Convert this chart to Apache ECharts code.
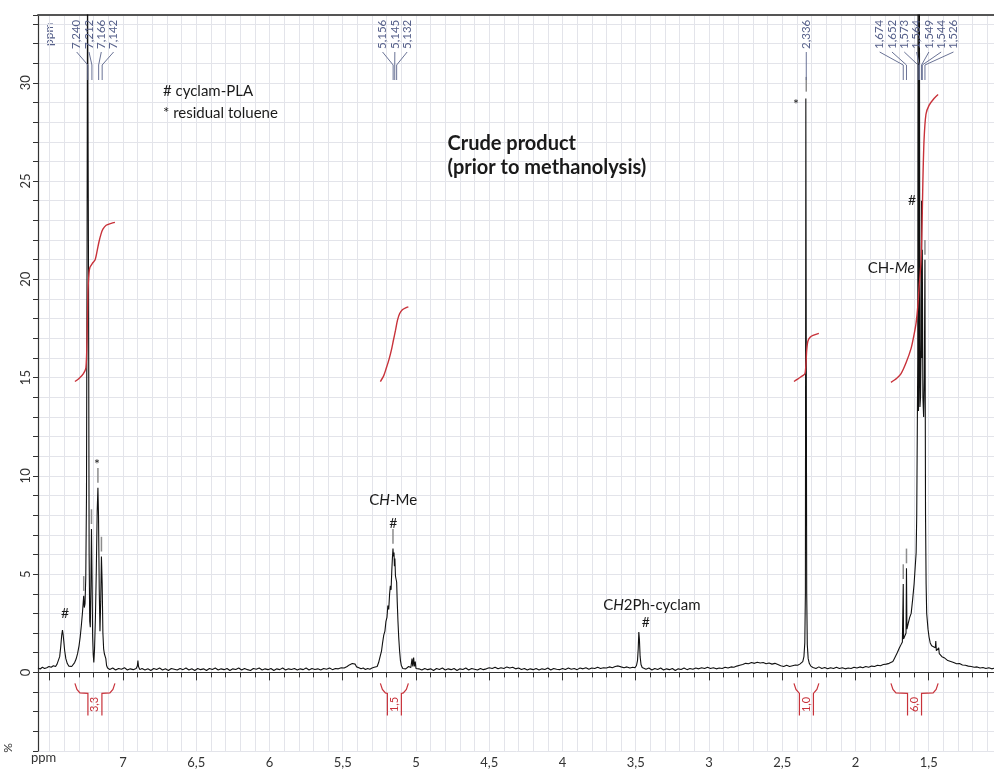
<!DOCTYPE html>
<html>
<head>
<meta charset="utf-8">
<title>1H NMR – crude product</title>
<script src="https://cdn.jsdelivr.net/npm/echarts@6/dist/echarts.min.js"></script>
<style>
  html, body { margin: 0; padding: 0; background: #fff; }
  #chart { width: 994px; height: 770px; }
</style>
</head>
<body>
<div id="chart"></div>
<script>
// ---------- spectrum (chemical shift in ppm, intensity in %) ----------
const spectrumAromatic = [
  [7.58,0.22],[7.565,0.17],[7.55,0.26],[7.535,0.2],[7.52,0.24],[7.505,0.3],[7.49,0.26],[7.475,0.34],
  [7.46,0.3],[7.45,0.42],[7.44,0.5],[7.432,0.8],[7.425,1.3],[7.418,1.9],[7.413,2.15],[7.409,1.95],
  [7.404,1.6],[7.398,1.1],[7.39,0.7],[7.38,0.45],[7.37,0.32],[7.36,0.25],[7.35,0.3],[7.34,0.38],
  [7.33,0.5],[7.32,0.68],[7.31,0.95],[7.30,1.35],[7.292,1.8],[7.284,2.4],[7.277,3.0],[7.272,3.5],
  [7.268,3.9],[7.264,3.3],[7.259,3.5],[7.254,4.8],[7.249,9],[7.245,22],[7.242,36],[7.238,36],
  [7.235,20],[7.231,6],[7.227,2.6],[7.223,2.3],[7.219,4.5],[7.215,7.3],[7.211,4.8],[7.207,1.8],
  [7.203,0.9],[7.199,0.5],[7.194,1.2],[7.188,2.8],[7.182,5.2],[7.176,8.2],[7.171,9.4],[7.167,8.0],
  [7.162,4.2],[7.157,2.1],[7.152,3.6],[7.147,5.9],[7.142,4.5],[7.137,2.0],[7.132,1.2],[7.127,0.95],
  [7.122,1.05],[7.117,0.7],[7.112,0.35],[7.105,0.22]
];
const spectrumOlefinic = [
  [7.09,0.15],[7.07,0.22],[7.05,0.12],[7.03,0.2],[7.01,0.16],[6.99,0.24],[6.97,0.12],[6.95,0.18],
  [6.93,0.14],[6.91,0.2],[6.902,0.32],[6.898,0.6],[6.894,0.3],[6.885,0.14],[6.87,0.2],[6.85,0.12],
  [6.83,0.18],[6.81,0.1],[6.79,0.2],[6.77,0.15],[6.75,0.22],[6.73,0.12],[6.71,0.18],[6.69,0.1],
  [6.67,0.2],[6.65,0.16],[6.63,0.12],[6.61,0.2],[6.59,0.14],[6.57,0.22],[6.55,0.12],[6.53,0.18],
  [6.51,0.1],[6.49,0.2],[6.47,0.14],[6.45,0.18],[6.43,0.1],[6.41,0.2],[6.39,0.15],[6.37,0.22],
  [6.35,0.12],[6.33,0.18],[6.31,0.14],[6.29,0.2],[6.27,0.1],[6.25,0.18],[6.23,0.15],[6.21,0.22],
  [6.19,0.12],[6.17,0.2],[6.15,0.14],[6.13,0.1],[6.11,0.2],[6.09,0.16],[6.07,0.22],[6.05,0.12],
  [6.03,0.18],[6.01,0.14],[5.99,0.2],[5.97,0.1],[5.95,0.18],[5.93,0.14],[5.91,0.22],[5.89,0.12],
  [5.87,0.18],[5.85,0.15],[5.83,0.2],[5.81,0.12],[5.79,0.18],[5.77,0.14],[5.75,0.22],[5.73,0.12],
  [5.71,0.2],[5.69,0.15],[5.67,0.18],[5.65,0.12],[5.63,0.2],[5.61,0.16],[5.59,0.22],[5.57,0.14],
  [5.55,0.2],[5.53,0.18],[5.51,0.24],[5.49,0.22],[5.47,0.3],[5.455,0.38],[5.445,0.3],[5.435,0.45],
  [5.425,0.36],[5.415,0.42],[5.405,0.28],[5.39,0.24],[5.375,0.18],[5.36,0.22],[5.345,0.15],[5.33,0.2],
  [5.315,0.16],[5.30,0.22],[5.285,0.26],[5.272,0.3]
];
const spectrumMethine = [
  [5.265,0.3],[5.255,0.5],[5.245,0.8],[5.235,1.1],[5.228,1.5],[5.22,1.9],[5.212,2.1],[5.205,2.6],
  [5.198,2.8],[5.192,3.4],[5.186,3.2],[5.18,4.0],[5.175,4.4],[5.17,4.2],[5.165,5.2],[5.161,5.8],
  [5.157,6.3],[5.154,5.9],[5.15,6.1],[5.147,5.4],[5.144,5.8],[5.14,4.9],[5.136,5.0],[5.132,4.6],
  [5.128,3.6],[5.123,2.6],[5.118,1.8],[5.112,1.1],[5.106,0.6],[5.1,0.35],[5.09,0.2],[5.08,0.25],
  [5.07,0.18],[5.06,0.22],[5.05,0.3],[5.035,0.25],[5.027,0.7],[5.022,0.3],[5.016,0.75],[5.011,0.3],
  [5.005,0.55],[5.0,0.2]
];
const spectrumMid = [
  [4.98,0.18],[4.96,0.12],[4.94,0.2],[4.92,0.14],[4.90,0.18],[4.88,0.1],[4.86,0.2],[4.84,0.15],
  [4.82,0.22],[4.80,0.12],[4.78,0.18],[4.76,0.14],[4.74,0.2],[4.72,0.1],[4.70,0.18],[4.68,0.15],
  [4.66,0.22],[4.64,0.12],[4.62,0.2],[4.60,0.16],[4.58,0.12],[4.56,0.2],[4.54,0.14],[4.52,0.18],
  [4.50,0.24],[4.48,0.2],[4.46,0.26],[4.44,0.18],[4.42,0.24],[4.40,0.2],[4.38,0.28],[4.36,0.22],
  [4.34,0.26],[4.32,0.18],[4.30,0.22],[4.28,0.15],[4.26,0.2],[4.24,0.12],[4.22,0.18],[4.20,0.14],
  [4.18,0.2],[4.16,0.12],[4.14,0.18],[4.12,0.15],[4.10,0.22],[4.08,0.12],[4.06,0.2],[4.04,0.16],
  [4.02,0.14],[4.00,0.2],[3.98,0.15],[3.96,0.22],[3.94,0.16],[3.92,0.2],[3.90,0.14],[3.88,0.22],
  [3.86,0.18],[3.84,0.24],[3.82,0.16],[3.80,0.22],[3.78,0.2],[3.76,0.26],[3.74,0.2],[3.72,0.24],
  [3.70,0.22],[3.68,0.28],[3.66,0.24],[3.64,0.3],[3.62,0.33],[3.60,0.28],[3.58,0.24],[3.56,0.28],
  [3.54,0.22],[3.52,0.26],[3.505,0.24],
  [3.495,0.35],[3.488,0.6],[3.483,1.2],[3.479,2.05],[3.475,1.7],[3.47,0.8],[3.464,0.4],[3.456,0.25],
  [3.445,0.2]
];
const spectrumAliphatic = [
  [3.43,0.16],[3.41,0.22],[3.39,0.12],[3.37,0.2],[3.35,0.15],[3.33,0.22],[3.31,0.12],[3.29,0.18],
  [3.27,0.14],[3.25,0.2],[3.23,0.1],[3.21,0.18],[3.19,0.15],[3.17,0.22],[3.15,0.14],[3.13,0.2],
  [3.11,0.16],[3.09,0.22],[3.07,0.18],[3.05,0.24],[3.03,0.2],[3.01,0.26],[2.99,0.2],[2.97,0.24],
  [2.95,0.18],[2.93,0.22],[2.91,0.2],[2.89,0.26],[2.87,0.22],[2.85,0.28],[2.83,0.26],[2.81,0.32],
  [2.79,0.36],[2.77,0.4],[2.75,0.46],[2.73,0.44],[2.71,0.5],[2.69,0.46],[2.67,0.52],[2.65,0.48],
  [2.63,0.5],[2.61,0.44],[2.59,0.48],[2.57,0.42],[2.55,0.46],[2.53,0.4],[2.51,0.34],[2.49,0.3],
  [2.47,0.36],[2.45,0.3],[2.43,0.34],[2.41,0.38],[2.395,0.36],[2.38,0.42],
  [2.37,0.45],[2.36,0.55],[2.352,0.8],[2.346,1.5],[2.342,4],[2.339,29.2],[2.336,29.3],[2.333,4],
  [2.329,1.4],[2.323,0.7],[2.315,0.45],[2.305,0.32]
];
const spectrumUpfield = [
  [2.29,0.25],[2.27,0.2],[2.25,0.28],[2.23,0.2],[2.21,0.25],[2.19,0.18],[2.17,0.24],[2.15,0.2],
  [2.13,0.26],[2.11,0.2],[2.09,0.24],[2.07,0.18],[2.05,0.22],[2.03,0.2],[2.01,0.26],[1.99,0.22],
  [1.97,0.28],[1.95,0.24],[1.93,0.3],[1.91,0.26],[1.89,0.32],[1.87,0.3],[1.85,0.36],[1.83,0.34],
  [1.81,0.4],[1.79,0.42],[1.77,0.46],
  [1.757,0.5],[1.745,0.55],[1.735,0.7],[1.725,0.8],[1.715,1.0],[1.709,1.1],[1.70,1.25],[1.69,1.4],
  [1.68,1.55],[1.676,1.6],[1.674,4.5],[1.672,1.7],[1.665,1.8],[1.655,2.0],[1.652,5.3],[1.649,2.2],
  [1.64,2.5],[1.63,2.8],[1.62,3.0],[1.61,3.7],[1.60,4.5],[1.593,5.3],[1.586,6.1],[1.582,8],
  [1.578,12.5],[1.575,16],[1.573,36],[1.570,13.3],[1.567,15],[1.564,36],[1.560,13.5],[1.556,14],
  [1.552,17],[1.549,24],[1.547,16],[1.544,21.5],[1.540,14],[1.535,13],[1.530,15],[1.526,21],
  [1.522,8],[1.518,4.5],[1.514,3.0],[1.505,2.2],[1.498,1.8],[1.49,1.5],[1.48,1.35],[1.47,1.3],
  [1.455,1.25],[1.452,1.6],[1.448,1.1],[1.435,1.0],[1.432,1.25],[1.428,0.95],[1.41,0.8],[1.395,0.75],
  [1.37,0.6],[1.35,0.55],[1.33,0.5],[1.31,0.44],[1.29,0.45],[1.27,0.38],[1.25,0.36],[1.23,0.32],
  [1.21,0.3],[1.19,0.26],[1.17,0.28],[1.15,0.22],[1.13,0.25],[1.11,0.2],[1.09,0.24],[1.07,0.18],
  [1.05,0.22],[1.03,0.2],[1.01,0.22],[1.0,0.2]
];

// ---------- integral traces ----------
const integralAromatic = [
  [7.328,14.8],[7.30,14.95],[7.27,15.2],[7.253,15.5],[7.245,17],[7.239,19.4],[7.232,20.3],[7.226,20.6],
  [7.21,20.8],[7.19,21.0],[7.175,21.5],[7.164,21.9],[7.15,22.3],[7.137,22.55],[7.115,22.75],[7.08,22.85],[7.055,22.9]
];
const integralMethine = [
  [5.243,14.8],[5.22,15.1],[5.202,15.5],[5.185,15.9],[5.168,16.4],[5.154,16.9],[5.14,17.4],[5.127,17.9],
  [5.112,18.25],[5.093,18.45],[5.07,18.55],[5.052,18.6]
];
const integralToluene = [
  [2.42,14.8],[2.39,14.95],[2.36,15.1],[2.345,15.2],[2.338,15.7],[2.333,16.4],[2.325,16.85],[2.31,17.05],
  [2.29,17.15],[2.25,17.25]
];
const integralMethyl = [
  [1.758,14.76],[1.72,14.95],[1.689,15.2],[1.655,15.75],[1.62,16.5],[1.6,17.2],[1.586,17.8],[1.575,18.6],
  [1.566,19.6],[1.552,21.0],[1.545,23.0],[1.54,25.0],[1.532,27.1],[1.519,28.4],[1.498,28.85],[1.464,29.2],[1.436,29.4]
];

// integration regions (ppm from, ppm to) and their relative areas
const integralRanges = [[7.328,7.055],[5.243,5.052],[2.42,2.25],[1.758,1.436]];
const integralAreas = [3.3, 1.5, 1.0, 6.0];

// picked peaks, grouped as listed along the top
const peaksAromatic = [7.240, 7.212, 7.166, 7.142];
const peaksMethine = [5.156, 5.145, 5.132];
const peaksToluene = [2.336];
const peaksMethyl = [1.674, 1.652, 1.573, 1.564, 1.549, 1.544, 1.526];

// peak-pick flags (position, apex height)
const peakFlags = [[7.268,3.9],[7.215,7.3],[7.171,9.4],[7.147,5.9],[5.157,6.3],[2.336,29.3],[1.674,4.5],[1.652,5.3],[1.526,21]];

// ---------- helpers ----------
const FONT = 'Lato, "Noto Sans", sans-serif';
const comma = (v, d) => v.toFixed(d).replace('.', ',');

const spectrum = [].concat(spectrumAromatic, spectrumOlefinic, spectrumMethine,
                           spectrumMid, spectrumAliphatic, spectrumUpfield);

const peakGroups = [peaksAromatic, peaksMethine, peaksToluene, peaksMethyl];
const peakItems = [];
peakGroups.forEach((g, gi) => g.forEach((p, i) => peakItems.push([p, 0, gi, i])));

const bracketItems = integralRanges.map((r, i) => [r[0], r[1], integralAreas[i]]);

// text annotations placed in data space
const annotations = [
  { at: [6.727, 29.6], text: '# cyclam-PLA', align: 'left', size: 15 },
  { at: [6.727, 28.45], text: '* residual toluene', align: 'left', size: 15 },
  { at: [4.785, 26.9], text: 'Crude product', align: 'left', size: 20, bold: true },
  { at: [4.785, 25.7], text: '(prior to methanolysis)', align: 'left', size: 20, bold: true },
  { at: [5.155, 8.75], text: '{n|C}{i|H}{n|-Me}', align: 'center', size: 15 },
  { at: [5.155, 7.6], text: '#', align: 'center', size: 14 },
  { at: [3.39, 3.4], text: '{n|C}{i|H}{n|2Ph-cyclam}', align: 'center', size: 15 },
  { at: [3.432, 2.55], text: '#', align: 'center', size: 14 },
  { at: [2.407, 28.9], text: '*', align: 'center', size: 14 },
  { at: [1.614, 24.0], text: '#', align: 'center', size: 14 },
  { at: [1.757, 20.55], text: '{n|CH-}{i|Me}', align: 'center', size: 15 },
  { at: [7.178, 10.6], text: '*', align: 'center', size: 14 },
  { at: [7.396, 3.0], text: '#', align: 'center', size: 14 }
];

// ---------- renderers ----------
function renderPeakLabel(params, api) {
  const ppm = api.value(0), gi = api.value(2), i = api.value(3);
  const group = peakGroups[gi];
  const xs = group.map(p => api.coord([p, 0])[0]);
  const center = xs.reduce((a, b) => a + b, 0) / xs.length;
  const lx = center + (i - (group.length - 1) / 2) * 12.3;
  const px = api.coord([ppm, 0])[0];
  const top = params.coordSys.y;
  return {
    type: 'group',
    children: [
      { type: 'text', x: lx, y: top + 34, rotation: Math.PI / 2,
        style: { text: comma(ppm, 3), fill: '#56608a', font: '11.5px ' + FONT,
                 align: 'left', verticalAlign: 'middle' } },
      { type: 'polyline', shape: { points: [[lx, top + 37], [px, top + 50], [px, top + 65]] },
        style: { stroke: '#6a7396', lineWidth: 1, fill: null } }
    ]
  };
}

function renderBracket(params, api) {
  const xL = api.coord([api.value(0), 0])[0];
  const xR = api.coord([api.value(1), 0])[0];
  const y0 = api.coord([0, 0])[1];
  const c = (xL + xR) / 2, h = 7;
  const yTop = y0 + 11, yK = y0 + 21, yB = y0 + 43;
  const stroke = { stroke: '#c8323a', lineWidth: 1.2, fill: null };
  const left = [[xL, yTop], [xL + 2, yK - 4], [Math.min(xL + 5, c - h), yK - 0.5], [c - h, yK], [c - h, yB]];
  const right = [[xR, yTop], [xR - 2, yK - 4], [Math.max(xR - 5, c + h), yK - 0.5], [c + h, yK], [c + h, yB]];
  return {
    type: 'group',
    children: [
      { type: 'polyline', shape: { points: left }, style: stroke },
      { type: 'polyline', shape: { points: right }, style: stroke },
      { type: 'text', x: c, y: y0 + 32, rotation: Math.PI / 2,
        style: { text: comma(api.value(2), 1), fill: '#c8323a', font: '11px ' + FONT,
                 align: 'center', verticalAlign: 'middle' } }
    ]
  };
}

function renderFlag(params, api) {
  const a = api.coord([api.value(0), api.value(1) + 0.25]);
  const b = api.coord([api.value(0), api.value(1) + 1.0]);
  return { type: 'line', shape: { x1: a[0], y1: a[1], x2: b[0], y2: b[1] },
           style: { stroke: '#8c8c8c', lineWidth: 1.5 } };
}

function renderAnnotation(params, api) {
  const a = annotations[params.dataIndex];
  const p = api.coord(a.at);
  const base = (a.bold ? 'bold ' : '') + a.size + 'px ' + FONT;
  return {
    type: 'text', x: p[0], y: p[1],
    style: {
      text: a.text, font: base, fill: '#1a1a1a', align: a.align, verticalAlign: 'middle',
      rich: {
        n: { font: base, fill: '#1a1a1a' },
        i: { font: 'italic ' + base, fill: '#1a1a1a' }
      }
    }
  };
}

// ---------- chart ----------
const chart = echarts.init(document.getElementById('chart'), null, { renderer: 'canvas' });
const gridLine = { lineStyle: { color: '#e3e4ea', width: 1 } };
const integralStyle = { color: '#c8323a', width: 1.4 };

chart.setOption({
  animation: false,
  backgroundColor: '#fff',
  grid: { left: 38, right: -8, top: 15, bottom: 19, containLabel: false, outerBoundsMode: 'none' },
  xAxis: [{
    type: 'value', min: 1.0, max: 7.58, interval: 0.5, inverse: true, offset: -4,
    axisLine: { lineStyle: { color: '#333', width: 1.2 } },
    axisTick: { length: 8, lineStyle: { color: '#333' } },
    minorTick: { show: true, splitNumber: 5, length: 5, lineStyle: { color: '#333' } },
    splitLine: gridLine,
    minorSplitLine: { show: true, lineStyle: { color: '#e3e4ea', width: 1 } },
    axisLabel: {
      color: '#333', fontSize: 13, fontFamily: FONT, margin: 9,
      formatter: v => (v > 7.3 ? '' : comma(v, 1).replace(/,0$/, ''))
    }
  }, {
    type: 'value', position: 'top', min: 1.0, max: 7.58, inverse: true,
    axisLine: { show: true, lineStyle: { color: '#555', width: 2 } },
    axisTick: { show: false }, axisLabel: { show: false }, splitLine: { show: false }
  }],
  yAxis: {
    type: 'value', min: -4, max: 33.45, interval: 1,
    axisLine: { show: true, lineStyle: { color: '#333', width: 1.2 } },
    axisTick: { show: true, length: 5, lineStyle: { color: '#333' } },
    splitLine: gridLine,
    axisLabel: {
      color: '#333', fontSize: 13, fontFamily: FONT, rotate: 90, margin: 6,
      formatter: v => (v >= 0 && v % 5 === 0 ? String(v) : '')
    }
  },
  graphic: [
    { type: 'text', x: 49, y: 46, rotation: Math.PI / 2,
      style: { text: 'ppm', fill: '#56608a', font: '12px ' + FONT, align: 'left', verticalAlign: 'middle' } },
    { type: 'text', x: 31, y: 758,
      style: { text: 'ppm', fill: '#333', font: '13px ' + FONT, align: 'left', verticalAlign: 'middle' } },
    { type: 'text', x: 8, y: 748, rotation: Math.PI / 2,
      style: { text: '%', fill: '#333', font: '12px ' + FONT, align: 'center', verticalAlign: 'middle' } }
  ],
  series: [
    { type: 'line', name: 'spectrum', data: spectrum, showSymbol: false, symbol: 'none',
      lineStyle: { color: '#111', width: 1.1 }, clip: true, z: 3 },
    { type: 'line', data: integralAromatic, showSymbol: false, smooth: 0.25, lineStyle: integralStyle, z: 4 },
    { type: 'line', data: integralMethine, showSymbol: false, smooth: 0.25, lineStyle: integralStyle, z: 4 },
    { type: 'line', data: integralToluene, showSymbol: false, smooth: 0.25, lineStyle: integralStyle, z: 4 },
    { type: 'line', data: integralMethyl, showSymbol: false, smooth: 0.25, lineStyle: integralStyle, z: 4 },
    { type: 'custom', data: peakFlags, renderItem: renderFlag, encode: { x: 0, y: 1 }, z: 2 },
    { type: 'custom', data: peakItems, renderItem: renderPeakLabel, encode: { x: 0, y: 1 }, z: 5 },
    { type: 'custom', data: bracketItems, renderItem: renderBracket, encode: { x: 0, y: 2 }, z: 5 },
    { type: 'custom', data: annotations.map(a => a.at), renderItem: renderAnnotation, encode: { x: 0, y: 1 }, z: 6 }
  ]
});
</script>
</body>
</html>
